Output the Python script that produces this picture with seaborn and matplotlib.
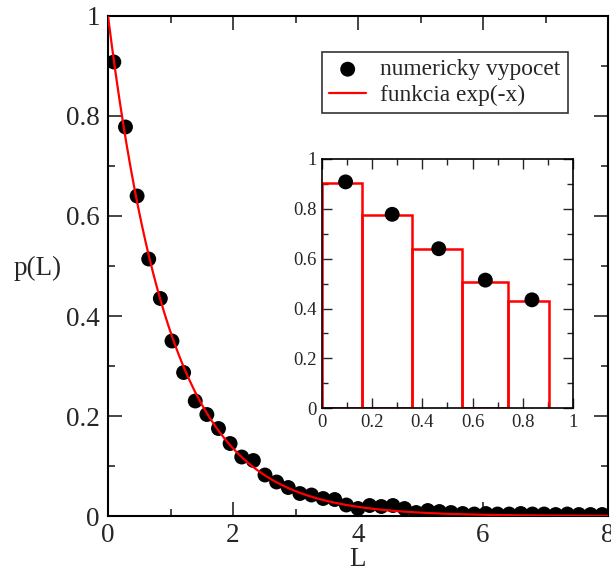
import numpy as np
import pandas as pd
import matplotlib
matplotlib.use("Agg")
import matplotlib.pyplot as plt
from matplotlib.ticker import MultipleLocator
import seaborn as sns

# ---- data ----
n_bins = 43
bin_width = 8.0 / n_bins
L_values = [(i + 0.5) * bin_width for i in range(n_bins)]
p_values = [0.908, 0.778, 0.640, 0.514, 0.435, 0.350, 0.287, 0.230, 0.203, 0.175,
            0.145, 0.118, 0.111, 0.082, 0.068, 0.057, 0.045, 0.042, 0.035, 0.033,
            0.022, 0.015, 0.021, 0.019, 0.021, 0.015, 0.007, 0.011, 0.009, 0.007,
            0.005, 0.004, 0.005, 0.004, 0.004, 0.005, 0.004, 0.004, 0.003, 0.004,
            0.003, 0.003, 0.003]
curve_x = list(np.linspace(0, 8, 400))
curve_y = list(np.exp(-np.array(curve_x)))

# inset histogram (as drawn)
bar_left = [0.0, 0.16, 0.36, 0.557, 0.743]
bar_right = [0.16, 0.36, 0.557, 0.743, 0.905]
bar_top = [0.905, 0.777, 0.640, 0.505, 0.432]
bar_bottom = [0.0, 0.0, -0.006, 0.0, -0.012]
n_inset = 5

main_ticks = [0, 2, 4, 6, 8]
main_yticks = [0, 0.2, 0.4, 0.6, 0.8, 1.0]
main_ytick_labels = ["0", "0.2", "0.4", "0.6", "0.8", "1"]
inset_ticks = [0, 0.2, 0.4, 0.6, 0.8, 1.0]
inset_tick_labels = ["0", "0.2", "0.4", "0.6", "0.8", "1"]

label_points = "numericky vypocet"
label_line = "funkcia exp(-x)"

# ---- style ----
sns.set_style("ticks")
plt.rcParams['font.family'] = ['Liberation Serif', 'DejaVu Serif']

df_pts = pd.DataFrame({"L": L_values, "p": p_values})
df_line = pd.DataFrame({"L": curve_x, "p": curve_y})

fig = plt.figure(figsize=(6.11, 5.71), dpi=100)
ax = fig.add_axes([0.1768, 0.0963, 0.8183, 0.8757])

sns.scatterplot(data=df_pts, x="L", y="p", ax=ax, color="black", s=115,
                edgecolor="none", zorder=3, label=label_points)
sns.lineplot(data=df_line, x="L", y="p", ax=ax, color="#ff0000", linewidth=1.6,
             zorder=4, label=label_line)

ax.set_xlim(0, 8)
ax.set_ylim(0, 1)
ax.set_xticks(main_ticks)
ax.set_xticklabels([str(t) for t in main_ticks])
ax.set_yticks(main_yticks)
ax.set_yticklabels(main_ytick_labels)
ax.xaxis.set_minor_locator(MultipleLocator(1))
ax.yaxis.set_minor_locator(MultipleLocator(0.1))
ax.tick_params(which="both", direction="in", top=True, right=True, width=1.2,
               labelsize=19.5)
ax.tick_params(axis="y", pad=6)
ax.tick_params(axis="x", pad=5)
ax.tick_params(which="major", length=10)
ax.tick_params(which="minor", length=5)
for s in ax.spines.values():
    s.set_linewidth(1.5)
    s.set_color("black")

ax.set_xlabel("L", fontsize=19.5)
ax.set_ylabel("p(L)", fontsize=19.5, rotation=0, va="center", ha="center")
ax.xaxis.set_label_coords(0.5, -0.062)
ax.yaxis.set_label_coords(-0.14, 0.495)

leg = ax.legend(loc="upper left", bbox_to_anchor=(0.428, 0.928), borderaxespad=0,
                fontsize=16.8, frameon=True, fancybox=False, handlelength=1.6,
                handletextpad=0.6, borderpad=0.3, labelspacing=0.2)
leg.get_frame().set_edgecolor("black")
leg.get_frame().set_linewidth(1.2)

# ---- inset ----
axi = fig.add_axes([0.5275, 0.285, 0.4098, 0.4366])
heights = [t - b for t, b in zip(bar_top, bar_bottom)]
widths = [r - l for l, r in zip(bar_left, bar_right)]
axi.bar(bar_left, heights, width=widths, bottom=bar_bottom, align="edge",
        fill=False, edgecolor="#ff0000", linewidth=1.8, zorder=2)
sns.scatterplot(x=L_values[:n_inset], y=p_values[:n_inset], ax=axi, color="black",
                s=115, edgecolor="none", zorder=3, legend=False)
axi.set_xlim(0, 1)
axi.set_ylim(0, 1)
axi.set_xticks(inset_ticks)
axi.set_xticklabels(inset_tick_labels)
axi.set_yticks(inset_ticks)
axi.set_yticklabels(inset_tick_labels)
axi.xaxis.set_minor_locator(MultipleLocator(0.1))
axi.yaxis.set_minor_locator(MultipleLocator(0.1))
axi.tick_params(which="both", direction="in", top=True, right=True, width=1.0,
                labelsize=13.5, pad=4)
axi.tick_params(which="major", length=7)
axi.tick_params(which="minor", length=4)
for s in axi.spines.values():
    s.set_linewidth(1.2)
    s.set_color("black")
axi.set_xlabel("")
axi.set_ylabel("")

fig.savefig("out.png", dpi=100)
